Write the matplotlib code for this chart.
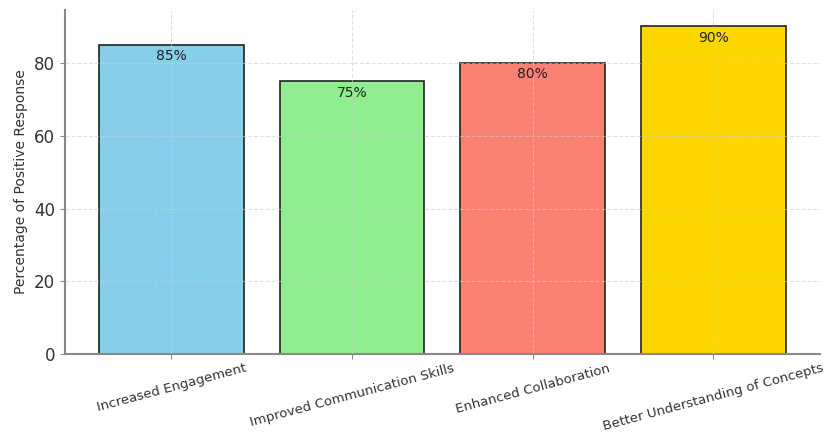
import matplotlib
matplotlib.use("Agg")
import matplotlib.pyplot as plt

plt.rcParams["font.family"] = ["DejaVu Sans"]

categories = ["Increased Engagement", "Improved Communication Skills",
              "Enhanced Collaboration", "Better Understanding of Concepts"]
values = [85, 75, 80, 90]
colors = ["skyblue", "lightgreen", "salmon", "gold"]

fig, ax = plt.subplots(figsize=(8.4, 4.32), dpi=100)
fig.subplots_adjust(left=0.077, right=0.976, top=0.977, bottom=0.18)
bars = ax.bar(categories, values, color=colors, edgecolor="#222222", linewidth=1.2, width=0.8)
for b, v in zip(bars, values):
    ax.text(b.get_x() + b.get_width() / 2, v - 3.2, f"{v}%", ha="center", va="center",
            fontsize=10, color="#222222")
ax.set_ylabel("Percentage of Positive Response", fontsize=10, color="#333333")
ax.grid(True, linestyle="--", color="#cccccc", alpha=0.6, linewidth=0.8)
ax.set_axisbelow(False)
for s in ["top", "right"]:
    ax.spines[s].set_visible(False)
for s in ["left", "bottom"]:
    ax.spines[s].set_color("#888888")
    ax.spines[s].set_linewidth(1.5)
ax.tick_params(axis="y", labelsize=12, colors="#333333")
ax.tick_params(axis="x", labelsize=9.5, colors="#333333", pad=2)
plt.setp(ax.get_xticklabels(), rotation=15, ha="center")
ax.tick_params(color="#888888")
fig.savefig("out.png", dpi=100)
